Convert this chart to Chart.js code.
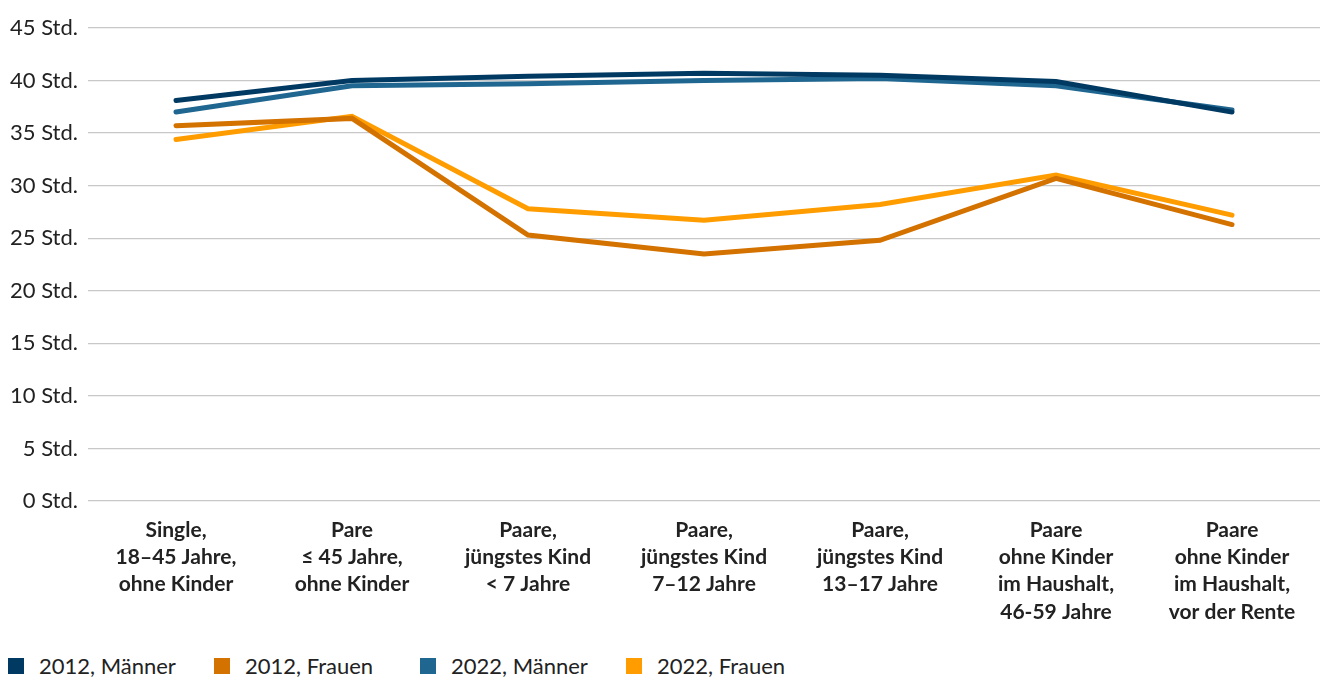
<!DOCTYPE html>
<html>
<head>
<meta charset="utf-8">
<script src="https://cdn.jsdelivr.net/npm/chart.js@4"></script>
<style>
  body { margin: 0; background: #fff; font-family: Lato, sans-serif; overflow: hidden; }
  #wrap { position: relative; width: 1320px; height: 640px; }
  #legend { position: absolute; left: 8px; top: 652px; display: flex; font-size: 22px; color: #222; }
  #legend .item { display: flex; align-items: center; width: 206px; }
  #legend .box { width: 16px; height: 16px; margin-right: 15px; }
</style>
</head>
<body>
<div id="wrap"><canvas id="myChart" width="1320" height="640"></canvas></div>
<div id="legend"></div>
<script>
// categories + series
const categories = [
    ['Single,', '18–45 Jahre,', 'ohne Kinder'],
    ['Pare', '≤ 45 Jahre,', 'ohne Kinder'],
    ['Paare,', 'jüngstes Kind', '< 7 Jahre'],
    ['Paare,', 'jüngstes Kind', '7–12 Jahre'],
    ['Paare,', 'jüngstes Kind', '13–17 Jahre'],
    ['Paare', 'ohne Kinder', 'im Haushalt,', '46-59 Jahre'],
    ['Paare', 'ohne Kinder', 'im Haushalt,', 'vor der Rente']
];
const maenner2012 = [38.1, 40.0, 40.4, 40.7, 40.5, 39.9, 37.0];
const frauen2012 = [35.7, 36.4, 25.3, 23.5, 24.8, 30.7, 26.3];
const maenner2022 = [37.0, 39.5, 39.7, 40.0, 40.2, 39.5, 37.2];
const frauen2022 = [34.4, 36.6, 27.8, 26.7, 28.2, 31.0, 27.2];
const seriesNames = ['2012, Männer', '2012, Frauen', '2022, Männer', '2022, Frauen'];
const seriesColors = ['#003a63', '#d47200', '#1f6690', '#ff9d00'];
const yTicks = [0, 5, 10, 15, 20, 25, 30, 35, 40, 45];

const allSeries = [maenner2012, frauen2012, maenner2022, frauen2022];

const ctx = document.getElementById('myChart').getContext('2d');
const myChart = new Chart(ctx, {
    type: 'line',
    data: {
        labels: categories,
        datasets: allSeries.map((d, i) => ({
            label: seriesNames[i],
            data: d,
            borderColor: seriesColors[i],
            backgroundColor: seriesColors[i],
            borderWidth: 5,
            borderCapStyle: 'round',
            pointRadius: 0,
            tension: 0
        }))
    },
    options: {
        responsive: false,
        maintainAspectRatio: false,
        animation: false,
        layout: { padding: { top: 28, right: 0, left: 0, bottom: 0 } },
        plugins: { legend: { display: false }, tooltip: { enabled: false } },
        scales: {
            x: {
                offset: true,
                grid: { display: false },
                border: { display: false },
                ticks: {
                    color: '#222',
                    font: { family: 'Lato', size: 21, weight: 'bold', lineHeight: 1.29 },
                    maxRotation: 0,
                    autoSkip: false,
                    padding: 8
                },
                afterFit: (s) => { s.height = 139; }
            },
            y: {
                min: 0,
                max: 45,
                afterBuildTicks: (s) => { s.ticks = yTicks.map(v => ({ value: v })); },
                grid: { color: '#c8c8c8', lineWidth: 1.3, drawTicks: false },
                border: { display: false },
                ticks: {
                    color: '#222',
                    font: { family: 'Lato', size: 22 },
                    padding: 10,
                    callback: (v) => v + ' Std.'
                },
                afterFit: (s) => { s.width = 88; }
            }
        }
    }
});

// legend
const lg = document.getElementById('legend');
seriesNames.forEach((n, i) => {
    lg.innerHTML += '<div class="item"><div class="box" style="background:' + seriesColors[i] + '"></div>' + n + '</div>';
});
</script>
</body>
</html>
